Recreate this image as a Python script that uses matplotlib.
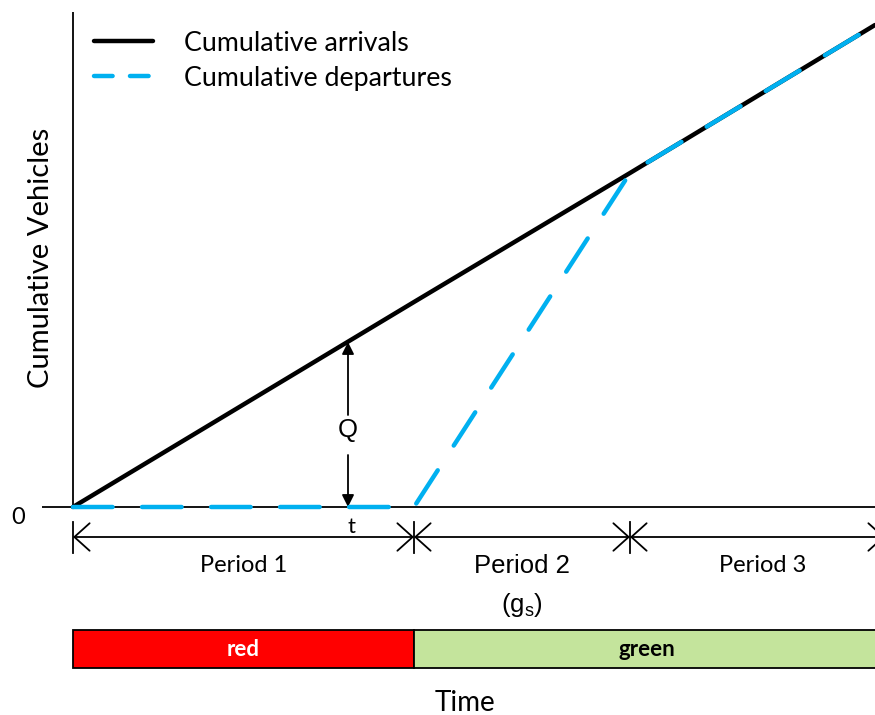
import matplotlib
matplotlib.use("Agg")
import matplotlib.pyplot as plt
from matplotlib.lines import Line2D
from matplotlib.patches import Rectangle

plt.rcParams['lines.scale_dashes'] = False
plt.rcParams['font.family'] = ['Lato', 'DejaVu Sans']

# ---- data (time units, vehicle units) ----
phase_times = [0.0, 34.1, 55.7, 80.2]          # start, end of red, queue cleared, end
arrivals = [0.0, 20.5, 33.4, 48.2]             # cumulative arrivals at phase_times
departures = [0.0, 0.0, 33.4, 48.2]            # cumulative departures at phase_times
period_labels = ["Period 1", "Period 2", "Period 3"]
signal_labels = ["red", "green"]
signal_colors = ["#FF0000", "#C4E49C"]
signal_text_colors = ["white", "black"]
t_mark = 27.5
q_at_t = 16.5

BLUE = "#00B0F0"

fig = plt.figure(figsize=(8.75, 7.15), dpi=100)
ax = fig.add_axes([0, 0, 1, 1])
ax.set_xlim(-7.3, 80.2)
ax.set_ylim(-20.8, 50.7)
ax.axis("off")

# axes lines
ax.plot([0, 0], [0, 49.5], color="black", lw=1.3, solid_capstyle="butt")
ax.plot([-3.1, 80.2], [0, 0], color="black", lw=1.3, solid_capstyle="butt")
ax.text(-5.5, -1.0, "0", fontsize=17, ha="center", va="center")
ax.text(-3.2, 24.9, "Cumulative Vehicles", fontsize=21, rotation=90,
        ha="center", va="center")

# curves
ax.plot(phase_times, arrivals, color="black", lw=3.2, solid_capstyle="round",
        zorder=3)
ax.plot(phase_times, departures, color=BLUE, lw=3.2,
        linestyle=(0, (28.5, 21.2)), dash_capstyle="round", zorder=4)

# legend
handles = [Line2D([], [], color="black", lw=3.2, solid_capstyle="round"),
           Line2D([], [], color=BLUE, lw=3.2, linestyle=(0, (13.4, 12.5)),
                  dash_capstyle="round")]
ax.legend(handles, ["Cumulative arrivals", "Cumulative departures"],
          loc="upper left", bbox_to_anchor=(0.1074, 0.957), frameon=False,
          fontsize=19.3, handlelength=2.2, handletextpad=1.15, labelspacing=0.37,
          borderpad=0, borderaxespad=0)

# Q arrows
ax.annotate("", xy=(t_mark, q_at_t), xytext=(t_mark, 9.2),
            arrowprops=dict(arrowstyle="-|>", color="black", lw=1.3,
                            mutation_scale=18, shrinkA=0, shrinkB=0))
ax.annotate("", xy=(t_mark, 0), xytext=(t_mark, 5.2),
            arrowprops=dict(arrowstyle="-|>", color="black", lw=1.3,
                            mutation_scale=18, shrinkA=0, shrinkB=0))
ax.text(t_mark, 7.7, "Q", fontsize=18.5, family="Liberation Sans",
        ha="center", va="center")
ax.text(t_mark + 0.3, -2.0, "t", fontsize=16, ha="center", va="center")

# period dimension line
y_dim = -3.0
bounds = [phase_times[0], phase_times[1], phase_times[2], phase_times[3] + 1.0]
for i in range(3):
    ax.annotate("", xy=(bounds[i], y_dim), xytext=(bounds[i + 1], y_dim),
                arrowprops=dict(arrowstyle="<->,head_length=0.5,head_width=0.45",
                                color="black", lw=1.3,
                                mutation_scale=22, shrinkA=0, shrinkB=0))
for b in bounds[:3]:
    ax.plot([b, b], [-1.5, -4.6], color="black", lw=1.3)

ax.text((bounds[0] + bounds[1]) / 2, -5.9, period_labels[0], fontsize=17,
        ha="center", va="center")
ax.text((bounds[1] + bounds[2]) / 2, -5.9, period_labels[1], fontsize=18.5,
        family="Liberation Sans", ha="center", va="center")
ax.text((bounds[1] + bounds[2]) / 2, -9.8, r"(g$_{\mathregular{s}}$)", fontsize=18.5,
        family="Liberation Sans", ha="center", va="center")
ax.text((bounds[2] + phase_times[3]) / 2 + 1.0, -5.9, period_labels[2],
        fontsize=17, ha="center", va="center")

# signal bar
bar_y0, bar_h = -16.1, 3.8
sig_edges = [phase_times[0], phase_times[1], phase_times[3] + 1.0]
for i in range(2):
    ax.add_patch(Rectangle((sig_edges[i], bar_y0), sig_edges[i + 1] - sig_edges[i],
                           bar_h, facecolor=signal_colors[i], edgecolor="black",
                           lw=1.3))
ax.text((phase_times[0] + phase_times[1]) / 2, bar_y0 + bar_h / 2 - 0.1,
        signal_labels[0], color=signal_text_colors[0], fontsize=16,
        fontweight="bold", ha="center", va="center")
ax.text((phase_times[1] + phase_times[3]) / 2 + 0.2, bar_y0 + bar_h / 2 - 0.1,
        signal_labels[1], color=signal_text_colors[1], fontsize=16,
        fontweight="bold", ha="center", va="center")

ax.text(39.2, -19.6, "Time", fontsize=20, ha="center", va="center")

fig.savefig("out.png", dpi=100)
